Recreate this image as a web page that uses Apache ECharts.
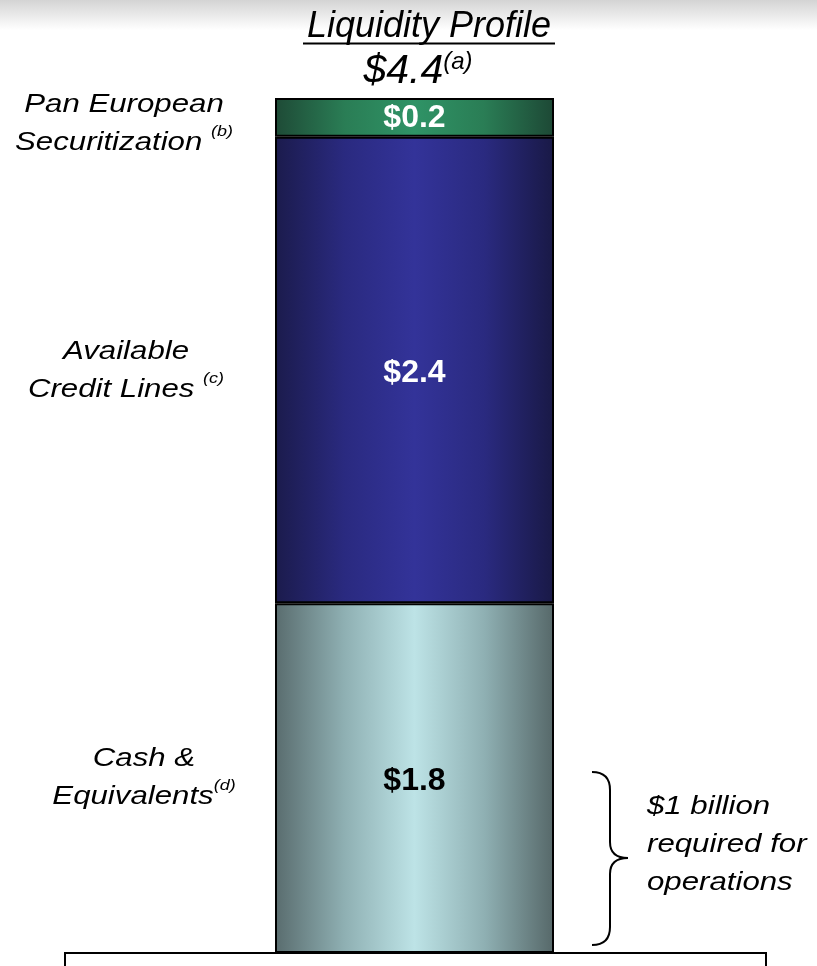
<!DOCTYPE html>
<html>
<head>
<meta charset="utf-8">
<script src="https://cdn.jsdelivr.net/npm/echarts@6/dist/echarts.min.js"></script>
<style>html,body{margin:0;padding:0;background:#fff}#c{width:817px;height:966px}</style>
</head>
<body>
<div id="c"></div>
<script>
// ---- data ----
const categories = ['Liquidity Profile'];
const seriesNames = ['Cash & Equivalents', 'Available Credit Lines', 'Pan European Securitization'];
const cashValues = [1.8];
const creditValues = [2.4];
const securitizationValues = [0.2];
const totalValues = [4.4];
const titleText = 'Liquidity Profile';
const noteLines = ['$1 billion', 'required for', 'operations'];

const FONT = '"Liberation Sans", Arial, sans-serif';
const chart = echarts.init(document.getElementById('c'), null, {renderer: 'canvas'});

function hgrad(stops) {
  return new echarts.graphic.LinearGradient(0, 0, 1, 0, stops.map((c, i) => ({offset: i / (stops.length - 1), color: c})));
}

const segColors = [
  hgrad(['#596c6e', '#8fb0b3', '#bde3e6', '#8fb0b3', '#566869']),
  hgrad(['#1b1b4c', '#2a2a80', '#333399', '#2a2a80', '#191946']),
  hgrad(['#1e4a36', '#2a7d55', '#2f9366', '#2a7d55', '#1d4835'])
];
const labelColors = ['#000000', '#ffffff', '#ffffff'];
const labelOffsets = [[0, 3], [0, 3], [0, 1]];
const valueLists = [cashValues, creditValues, securitizationValues];

const series = valueLists.map((vals, i) => ({
  name: seriesNames[i],
  type: 'bar',
  stack: 'total',
  barWidth: 279,
  data: vals,
  z: 3,
  itemStyle: {color: segColors[i], borderColor: '#000', borderWidth: 2},
  label: {
    show: true,
    position: 'inside',
    offset: labelOffsets[i],
    formatter: p => '$' + p.value.toFixed(1),
    color: labelColors[i],
    fontFamily: FONT,
    fontWeight: 'bold',
    fontSize: 32
  }
}));

function sideText(x, y, lines, scaleX, align) {
  return {
    type: 'text', x: x, y: y, scaleX: scaleX || 1.2, z: 10,
    style: {
      text: lines.join('\n'),
      textAlign: align || 'center',
      textVerticalAlign: 'middle',
      fontFamily: FONT, fontStyle: 'italic', fontSize: 26, lineHeight: 38,
      fill: '#000',
      rich: {
        m: {fontFamily: FONT, fontStyle: 'italic', fontSize: 26, lineHeight: 38, fill: '#000'},
        s: {fontFamily: FONT, fontStyle: 'italic', fontSize: 15, lineHeight: 20, verticalAlign: 'top', fill: '#000'}
      }
    }
  };
}

const braceStyle = {fill: 'none', stroke: '#000', lineWidth: 2};
const brace = [
  {type: 'bezierCurve', z: 10, shape: {x1: 592, y1: 772, cpx1: 610, cpy1: 772, x2: 610, y2: 790}, style: braceStyle},
  {type: 'line', z: 10, shape: {x1: 610, y1: 790, x2: 610, y2: 842}, style: braceStyle},
  {type: 'bezierCurve', z: 10, shape: {x1: 610, y1: 842, cpx1: 610, cpy1: 858, x2: 628, y2: 858}, style: braceStyle},
  {type: 'bezierCurve', z: 10, shape: {x1: 628, y1: 858, cpx1: 610, cpy1: 858, x2: 610, y2: 874}, style: braceStyle},
  {type: 'line', z: 10, shape: {x1: 610, y1: 874, x2: 610, y2: 927}, style: braceStyle},
  {type: 'bezierCurve', z: 10, shape: {x1: 610, y1: 927, cpx1: 610, cpy1: 945, x2: 592, y2: 945}, style: braceStyle}
];

chart.setOption({
  animation: false,
  backgroundColor: '#ffffff',
  grid: {left: 275, width: 279, top: 98, bottom: 13, containLabel: false},
  xAxis: {type: 'category', data: categories, show: false},
  yAxis: {type: 'value', min: 0, max: totalValues[0], show: false, splitLine: {show: false}},
  series: series,
  graphic: [
    {type: 'rect', z: 0, shape: {x: 0, y: 0, width: 817, height: 30},
      style: {fill: new echarts.graphic.LinearGradient(0, 0, 0, 1, [{offset: 0, color: '#d4d4d4'}, {offset: 1, color: '#ffffff'}])}},
    {type: 'rect', z: 1, shape: {x: 65, y: 953, width: 701, height: 40},
      style: {fill: 'none', stroke: '#000', lineWidth: 2}},
    {type: 'text', x: 429, y: 27, z: 10,
      style: {text: titleText, textAlign: 'center', textVerticalAlign: 'middle',
        fontFamily: FONT, fontStyle: 'italic', fontSize: 36, fill: '#000'}},
    {type: 'line', z: 10, shape: {x1: 303, y1: 43.5, x2: 555, y2: 43.5}, style: {stroke: '#000', lineWidth: 2}},
    {type: 'text', x: 418, y: 72, z: 10,
      style: {text: '{m|$' + totalValues[0].toFixed(1) + '}{s|(a)}', textAlign: 'center', textVerticalAlign: 'middle',
        rich: {
          m: {fontFamily: FONT, fontStyle: 'italic', fontSize: 41, lineHeight: 44, fill: '#000'},
          s: {fontFamily: FONT, fontStyle: 'italic', fontSize: 24, lineHeight: 34, verticalAlign: 'top', fill: '#000'}
        }}},
    sideText(124, 124, ['{m|Pan European}', '{m|Securitization }{s|(b)}']),
    sideText(126, 371, ['{m|Available}', '{m|Credit Lines }{s|(c)}']),
    sideText(144, 778, ['{m|Cash &}', '{m|Equivalents}{s|(d)}']),
    sideText(647, 845, noteLines.map(t => '{m|' + t + '}'), 1.2, 'left')
  ].concat(brace)
});
</script>
</body>
</html>
